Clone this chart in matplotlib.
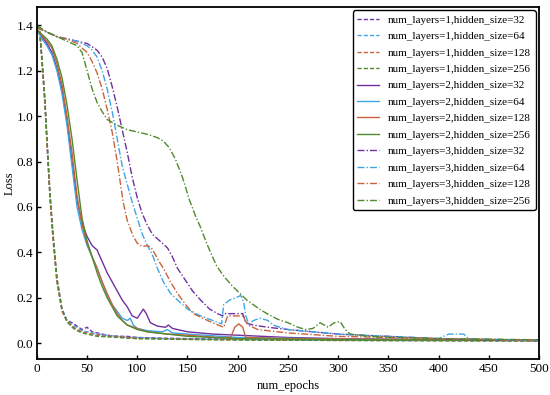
import matplotlib
matplotlib.use("Agg")
import matplotlib.pyplot as plt

plt.rcParams['font.family'] = ['Liberation Serif', 'DejaVu Serif']
plt.rcParams['font.size'] = 9

# layer 1 (dashed): fast drop
ep_l1 = [0, 3, 5, 8, 10, 13, 16, 20, 25, 30, 35, 40, 45, 50, 55, 60, 70, 80, 90, 100,
         125, 150, 200, 250, 300, 350, 400, 450, 500]
l1_h32 = [1.40, 1.37, 1.26, 1.07, 0.90, 0.66, 0.48, 0.28, 0.15, 0.10, 0.09, 0.075, 0.06, 0.07, 0.05, 0.045,
          0.035, 0.03, 0.03, 0.025, 0.022, 0.02, 0.017, 0.015, 0.013, 0.013, 0.012, 0.012, 0.011]
l1_h64 = [1.40, 1.36, 1.25, 1.06, 0.89, 0.65, 0.47, 0.27, 0.15, 0.10, 0.08, 0.07, 0.055, 0.05, 0.045, 0.04,
          0.035, 0.03, 0.025, 0.025, 0.02, 0.018, 0.016, 0.014, 0.013, 0.012, 0.012, 0.011, 0.011]
l1_h128 = [1.40, 1.36, 1.24, 1.05, 0.88, 0.64, 0.46, 0.27, 0.14, 0.095, 0.075, 0.06, 0.05, 0.045, 0.04, 0.035,
           0.03, 0.03, 0.025, 0.02, 0.02, 0.017, 0.015, 0.013, 0.012, 0.012, 0.011, 0.011, 0.01]
l1_h256 = [1.40, 1.37, 1.26, 1.08, 0.91, 0.67, 0.49, 0.29, 0.15, 0.095, 0.07, 0.055, 0.045, 0.04, 0.035, 0.03,
           0.028, 0.025, 0.022, 0.02, 0.018, 0.016, 0.014, 0.013, 0.012, 0.011, 0.011, 0.01, 0.01]

# layer 2 (solid)
ep_l2_h32 = [0, 5, 10, 15, 20, 25, 30, 35, 40, 45, 50, 55, 60, 65, 70, 75, 80, 85, 90, 95, 100, 103,
             106, 109, 113, 120, 128, 131, 135, 150, 175, 200, 225, 250, 300, 400, 500]
l2_h32 = [1.38, 1.35, 1.32, 1.28, 1.21, 1.12, 0.98, 0.80, 0.63, 0.53, 0.47, 0.43, 0.41, 0.36, 0.31, 0.27,
          0.23, 0.19, 0.16, 0.12, 0.11, 0.13, 0.15, 0.13, 0.09, 0.075, 0.07, 0.08, 0.065, 0.05, 0.04, 0.035,
          0.03, 0.025, 0.02, 0.015, 0.012]
ep_l2_h64 = [0, 5, 10, 15, 20, 25, 30, 35, 40, 45, 50, 55, 60, 65, 70, 75, 80, 85, 90, 93, 96, 100, 110,
             125, 130, 135, 150, 200, 300, 500]
l2_h64 = [1.38, 1.34, 1.31, 1.27, 1.20, 1.10, 0.96, 0.78, 0.60, 0.50, 0.43, 0.38, 0.33, 0.27, 0.21, 0.17,
          0.14, 0.11, 0.10, 0.11, 0.08, 0.065, 0.055, 0.05, 0.06, 0.045, 0.04, 0.025, 0.018, 0.012]
ep_l2_h128 = [0, 10, 15, 20, 25, 30, 35, 40, 45, 50, 55, 60, 65, 70, 75, 80, 85, 90, 100, 110, 130, 150,
              180, 193, 197, 201, 205, 208, 250, 500]
l2_h128 = [1.38, 1.33, 1.30, 1.23, 1.14, 1.00, 0.84, 0.65, 0.52, 0.44, 0.38, 0.33, 0.27, 0.22, 0.17, 0.13,
           0.10, 0.08, 0.065, 0.05, 0.04, 0.035, 0.025, 0.025, 0.07, 0.085, 0.07, 0.025, 0.02, 0.012]
ep_l2_h256 = [0, 10, 15, 20, 25, 30, 35, 40, 45, 50, 55, 60, 65, 70, 75, 80, 85, 90, 100, 110, 130, 150,
              200, 300, 500]
l2_h256 = [1.38, 1.34, 1.31, 1.25, 1.17, 1.05, 0.90, 0.72, 0.55, 0.45, 0.38, 0.31, 0.25, 0.20, 0.16, 0.12,
           0.10, 0.08, 0.06, 0.05, 0.04, 0.03, 0.02, 0.015, 0.012]

# layer 3 (dash-dot)
ep_l3_h32 = [0, 10, 20, 30, 40, 50, 60, 65, 70, 75, 80, 85, 90, 95, 100, 105, 110, 115, 120, 125, 130,
             135, 140, 146, 155, 163, 172, 180, 185, 187, 205, 208, 215, 230, 250, 275, 300, 350, 400, 450, 500]
l3_h32 = [1.39, 1.37, 1.35, 1.34, 1.33, 1.32, 1.29, 1.26, 1.21, 1.13, 1.04, 0.94, 0.84, 0.73, 0.64, 0.57,
          0.52, 0.48, 0.46, 0.44, 0.42, 0.38, 0.33, 0.29, 0.23, 0.19, 0.15, 0.13, 0.12, 0.13, 0.13, 0.09,
          0.08, 0.07, 0.06, 0.05, 0.04, 0.03, 0.02, 0.015, 0.012]
ep_l3_h64 = [0, 10, 20, 30, 40, 50, 55, 60, 65, 70, 75, 80, 85, 90, 95, 100, 105, 110, 115, 120, 126, 133,
             140, 150, 163, 175, 184, 186, 192, 198, 203, 206, 208, 211, 216, 222, 230, 235, 250, 300, 350,
             400, 410, 425, 430, 500]
l3_h64 = [1.39, 1.37, 1.35, 1.34, 1.33, 1.31, 1.29, 1.26, 1.20, 1.12, 1.02, 0.90, 0.78, 0.70, 0.62, 0.55,
          0.48, 0.43, 0.39, 0.33, 0.27, 0.22, 0.19, 0.15, 0.12, 0.10, 0.085, 0.17, 0.19, 0.20, 0.21, 0.18,
          0.12, 0.085, 0.10, 0.11, 0.10, 0.08, 0.06, 0.04, 0.03, 0.02, 0.04, 0.04, 0.02, 0.012]
ep_l3_h128 = [0, 10, 20, 30, 40, 45, 50, 55, 60, 65, 70, 75, 80, 86, 90, 96, 100, 105, 110, 114, 118, 123,
              126, 133, 140, 148, 156, 165, 175, 186, 190, 205, 210, 220, 250, 300, 350, 400, 500]
l3_h128 = [1.39, 1.37, 1.35, 1.34, 1.32, 1.30, 1.28, 1.24, 1.19, 1.12, 1.03, 0.93, 0.80, 0.62, 0.54, 0.47,
           0.44, 0.425, 0.43, 0.42, 0.39, 0.35, 0.33, 0.27, 0.22, 0.17, 0.13, 0.11, 0.09, 0.07, 0.12, 0.12,
           0.08, 0.06, 0.045, 0.03, 0.025, 0.02, 0.012]
ep_l3_h256 = [0, 10, 20, 30, 40, 45, 50, 55, 60, 65, 70, 80, 90, 100, 110, 120, 126, 132, 138, 145, 152,
              158, 163, 170, 179, 187, 195, 202, 209, 220, 229, 240, 250, 260, 268, 275, 282, 290, 296, 302,
              307, 312, 330, 360, 400, 500]
l3_h256 = [1.40, 1.37, 1.35, 1.33, 1.31, 1.28, 1.20, 1.12, 1.06, 1.02, 0.985, 0.96, 0.94, 0.93, 0.92, 0.905,
           0.89, 0.86, 0.81, 0.73, 0.63, 0.56, 0.51, 0.43, 0.34, 0.29, 0.25, 0.22, 0.19, 0.155, 0.13, 0.105,
           0.09, 0.07, 0.06, 0.065, 0.09, 0.07, 0.09, 0.095, 0.06, 0.04, 0.03, 0.025, 0.02, 0.015]

hidden_sizes = [32, 64, 128, 256]
colors = ['#7030a0', '#3fa6e6', '#c8643c', '#4f8a2e']
styles = {1: (0, (3, 1.5)), 2: '-', 3: (0, (5, 1.5, 1, 1.5))}

series = {
    1: [(ep_l1, l1_h32), (ep_l1, l1_h64), (ep_l1, l1_h128), (ep_l1, l1_h256)],
    2: [(ep_l2_h32, l2_h32), (ep_l2_h64, l2_h64), (ep_l2_h128, l2_h128), (ep_l2_h256, l2_h256)],
    3: [(ep_l3_h32, l3_h32), (ep_l3_h64, l3_h64), (ep_l3_h128, l3_h128), (ep_l3_h256, l3_h256)],
}

fig = plt.figure(figsize=(5.5, 3.95), dpi=100)
ax = fig.add_axes([0.067, 0.091, 0.913, 0.891])

for layers in [1, 2, 3]:
    for (x, y), hs, c in zip(series[layers], hidden_sizes, colors):
        ax.plot(x, y, color=c, linestyle=styles[layers], linewidth=1.0,
                label=f"num_layers={layers},hidden_size={hs}")

ax.set_xlim(0, 500)
ax.set_ylim(-0.07, 1.48)
ax.set_xticks(range(0, 501, 50))
ax.set_yticks([0.0, 0.2, 0.4, 0.6, 0.8, 1.0, 1.2, 1.4])
ax.tick_params(direction='in', length=3, width=1, labelsize=9.5, pad=2.5)
for s in ax.spines.values():
    s.set_linewidth(1.3)
ax.set_xlabel("num_epochs", fontsize=9)
ax.set_ylabel("Loss", fontsize=9, labelpad=1)

leg = ax.legend(loc='upper right', fontsize=8, frameon=True, fancybox=True,
                edgecolor='black', framealpha=1, borderaxespad=0.3,
                labelspacing=0.6)
leg.get_frame().set_linewidth(1.0)

fig.savefig("out.png", dpi=100)
